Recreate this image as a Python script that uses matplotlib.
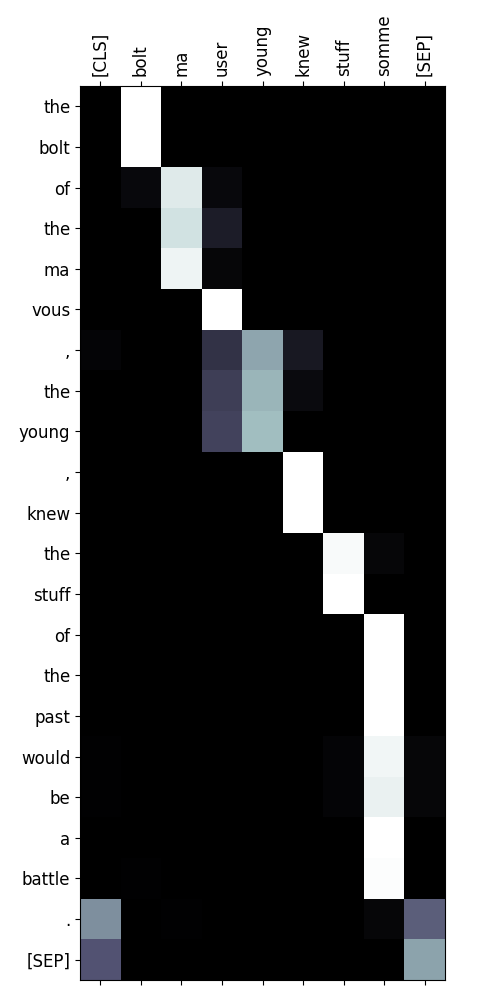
import matplotlib
matplotlib.use('Agg')
import matplotlib.pyplot as plt
import numpy as np

plt.rcParams['font.family'] = ['DejaVu Sans']

cols = ['[CLS]', 'bolt', 'ma', 'user', 'young', 'knew', 'stuff', 'somme', '[SEP]']
rows = ['the', 'bolt', 'of', 'the', 'ma', 'vous', ',', 'the', 'young', ',', 'knew',
        'the', 'stuff', 'of', 'the', 'past', 'would', 'be', 'a', 'battle', '.', '[SEP]']

# attention weights, one list per row (columns as in cols)
w_the1   = [0.0, 1.0, 0.0, 0.0, 0.0, 0.0, 0.0, 0.0, 0.0]
w_bolt   = [0.0, 1.0, 0.0, 0.0, 0.0, 0.0, 0.0, 0.0, 0.0]
w_of1    = [0.0, 0.04, 0.91, 0.04, 0.0, 0.0, 0.0, 0.0, 0.0]
w_the2   = [0.0, 0.0, 0.87, 0.13, 0.0, 0.0, 0.0, 0.0, 0.0]
w_ma     = [0.0, 0.0, 0.95, 0.03, 0.0, 0.0, 0.0, 0.0, 0.0]
w_vous   = [0.0, 0.0, 0.0, 1.0, 0.0, 0.0, 0.0, 0.0, 0.0]
w_comma1 = [0.02, 0.0, 0.0, 0.23, 0.64, 0.11, 0.0, 0.0, 0.0]
w_the3   = [0.0, 0.0, 0.0, 0.28, 0.69, 0.05, 0.0, 0.0, 0.0]
w_young  = [0.0, 0.0, 0.0, 0.30, 0.72, 0.0, 0.0, 0.0, 0.0]
w_comma2 = [0.0, 0.0, 0.0, 0.0, 0.0, 1.0, 0.0, 0.0, 0.0]
w_knew   = [0.0, 0.0, 0.0, 0.0, 0.0, 1.0, 0.0, 0.0, 0.0]
w_the4   = [0.0, 0.0, 0.0, 0.0, 0.0, 0.0, 0.98, 0.03, 0.0]
w_stuff  = [0.0, 0.0, 0.0, 0.0, 0.0, 0.0, 1.0, 0.0, 0.0]
w_of2    = [0.0, 0.0, 0.0, 0.0, 0.0, 0.0, 0.0, 1.0, 0.0]
w_the5   = [0.0, 0.0, 0.0, 0.0, 0.0, 0.0, 0.0, 1.0, 0.0]
w_past   = [0.0, 0.0, 0.0, 0.0, 0.0, 0.0, 0.0, 1.0, 0.0]
w_would  = [0.01, 0.0, 0.0, 0.0, 0.0, 0.0, 0.02, 0.96, 0.03]
w_be     = [0.01, 0.0, 0.0, 0.0, 0.0, 0.0, 0.02, 0.94, 0.03]
w_a      = [0.0, 0.0, 0.0, 0.0, 0.0, 0.0, 0.0, 1.0, 0.0]
w_battle = [0.0, 0.01, 0.0, 0.0, 0.0, 0.0, 0.0, 0.99, 0.0]
w_dot    = [0.57, 0.0, 0.01, 0.0, 0.0, 0.0, 0.0, 0.03, 0.41]
w_sep    = [0.37, 0.0, 0.0, 0.0, 0.0, 0.0, 0.0, 0.0, 0.63]

attn = np.array([w_the1, w_bolt, w_of1, w_the2, w_ma, w_vous, w_comma1, w_the3,
                 w_young, w_comma2, w_knew, w_the4, w_stuff, w_of2, w_the5, w_past,
                 w_would, w_be, w_a, w_battle, w_dot, w_sep])

fig = plt.figure(figsize=(5, 10), dpi=100)
ax = fig.add_axes([0.16, 0.02, 0.73, 0.894])
ax.matshow(attn, cmap='bone', vmin=0, vmax=1, aspect='auto')
ax.set_xticks(range(len(cols)))
ax.set_xticklabels(cols, rotation=90, fontsize=12)
ax.set_yticks(range(len(rows)))
ax.set_yticklabels(rows, fontsize=12)

plt.savefig('out.png')
